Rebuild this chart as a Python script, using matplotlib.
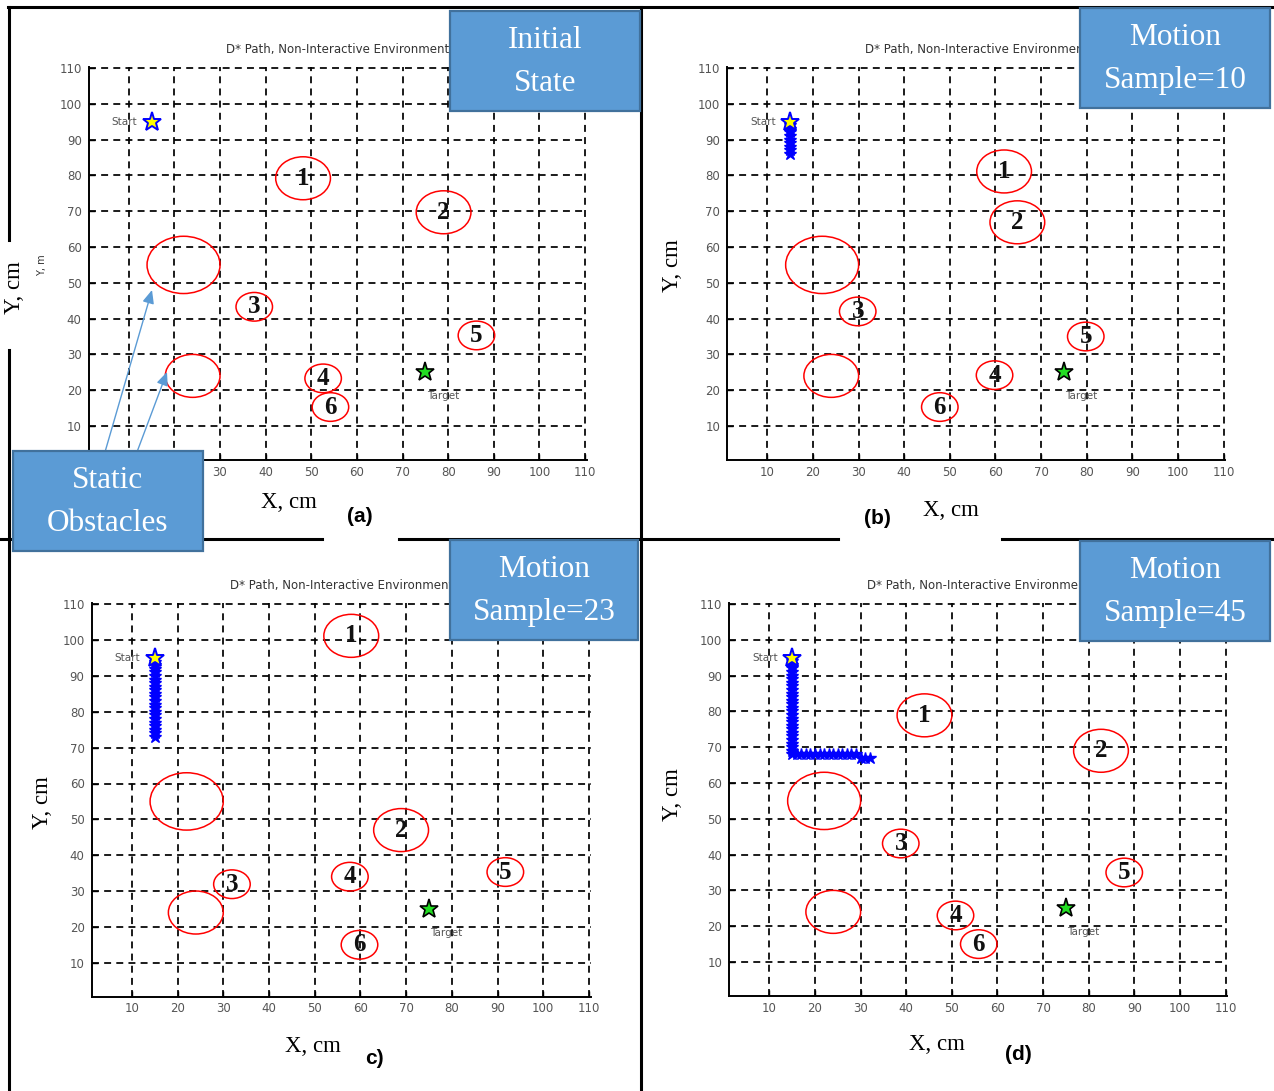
import matplotlib
matplotlib.use('Agg')
from matplotlib import pyplot as plt
from matplotlib.patches import Ellipse, Rectangle, FancyArrowPatch
from matplotlib.lines import Line2D

W, H = 1274, 1091

ticks = [10, 20, 30, 40, 50, 60, 70, 80, 90, 100, 110]
title = 'D* Path, Non-Interactive Environment'

start_pt = (15, 95)
target_pt = (75, 25)

# static obstacles (same in every panel): centre x, centre y, radius
static_x = [22, 24]
static_y = [55, 24]
static_r = [8, 6]

# moving obstacles 1..6
obs_labels = ['1', '2', '3', '4', '5', '6']
obs_r = [6, 6, 4, 4, 4, 4]
obs_x_a = [48.2, 79, 37.5, 52.6, 86.2, 54.2]
obs_y_a = [79.2, 69.7, 43.3, 23.3, 35.3, 15.3]
obs_x_b = [61.9, 64.8, 29.8, 59.8, 79.8, 47.8]
obs_y_b = [81.1, 66.9, 42, 24.2, 35, 15.3]
obs_x_c = [58, 68.9, 31.9, 57.7, 91.7, 59.8]
obs_y_c = [101.2, 47, 31.9, 34, 35.3, 15]
obs_x_d = [44, 82.7, 38.8, 50.8, 87.8, 55.9]
obs_y_d = [78.9, 69, 43.1, 23, 35, 15]

# robot path samples
path_x_b = [15, 15, 15, 15, 15, 15, 15, 15, 15, 15]
path_y_b = [95, 94, 93, 92, 91, 90, 89, 88, 87, 86]
path_x_c = [15] * 23
path_y_c = [95, 94, 93, 92, 91, 90, 89, 88, 87, 86, 85, 84, 83, 82, 81, 80,
            79, 78, 77, 76, 75, 74, 73]
path_x_d = [15] * 28 + [16, 17, 18, 19, 20, 21, 22, 23, 24, 25, 26, 27, 28,
                        29, 30, 31, 32]
path_y_d = [95, 94, 93, 92, 91, 90, 89, 88, 87, 86, 85, 84, 83, 82, 81, 80,
            79, 78, 77, 76, 75, 74, 73, 72, 71, 70, 69, 68,
            68, 68, 68, 68, 68, 68, 68, 68, 68, 68, 68, 68, 68, 68, 67, 67, 67]

box_fill = '#5B9BD5'
box_edge = '#41719C'
serif = ['Liberation Serif', 'DejaVu Serif']

xlo, xhi = 1.2, 110.4
ylo, yhi = 0.5, 110.4


def fx(px):
    return px / W


def fy(py):
    return 1 - py / H


def place(x10, x110, y110, y10):
    sx = (x110 - x10) / 100
    sy = (y10 - y110) / 100
    l = x10 + (xlo - 10) * sx
    r = x10 + (xhi - 10) * sx
    t = y110 - (yhi - 110) * sy
    b = y110 + (110 - ylo) * sy
    return [fx(l), fy(b), (r - l) / W, (b - t) / H]


def panel(fig, rect, ox, oy, px=None, py=None):
    ax = fig.add_axes(rect)
    ax.set_xlim(xlo, xhi)
    ax.set_ylim(ylo, yhi)
    ax.set_xticks(ticks)
    ax.set_yticks(ticks)
    ax.grid(True, color='black', linestyle=(0, (4, 3)), linewidth=1.25)
    ax.set_axisbelow(True)
    for s in ('top', 'right'):
        ax.spines[s].set_visible(False)
    for s in ('left', 'bottom'):
        ax.spines[s].set_linewidth(1.4)
    ax.tick_params(direction='in', length=4, width=1, labelsize=8.5,
                   labelcolor='#555555')
    ax.tick_params(axis='x', pad=4)
    ax.tick_params(axis='y', pad=5)
    ax.set_title(title, fontsize=8.5, color='#333333', pad=10)

    for x, y, r in zip(static_x, static_y, static_r):
        ax.add_patch(Ellipse((x, y), 2 * r, 2 * r, fill=False,
                             edgecolor='red', linewidth=1.1, zorder=4))
    for lab, x, y, r in zip(obs_labels, ox, oy, obs_r):
        ax.add_patch(Ellipse((x, y), 2 * r, 2 * r, fill=False,
                             edgecolor='red', linewidth=1.1, zorder=4))
        ax.text(x, y, lab, ha='center', va='center', fontsize=18,
                fontweight='bold', family=serif, color='#111111', zorder=5)

    if px is not None:
        ax.plot(px, py, color='blue', marker='*', markersize=9,
                linewidth=2, zorder=5)
    ax.plot(*start_pt, marker='*', markersize=14, markerfacecolor='yellow',
            markeredgecolor='blue', markeredgewidth=1.4, zorder=6)
    ax.plot(*target_pt, marker='*', markersize=14, markerfacecolor='#22dd22',
            markeredgecolor='black', markeredgewidth=1.2, zorder=6)
    ax.text(11.8, 95, 'Start', ha='right', va='center', fontsize=7.5,
            color='#555555')
    ax.text(75.3, 18.3, 'Target', ha='left', va='center', fontsize=7.5,
            color='#555555')
    return ax


def blue_box(fig, l, t, r, b, text):
    fig.add_artist(Rectangle((fx(l), fy(b)), (r - l) / W, (b - t) / H,
                             transform=fig.transFigure, facecolor=box_fill,
                             edgecolor=box_edge, linewidth=1.6, zorder=5))
    fig.text(fx((l + r) / 2), fy((t + b) / 2 + 1), text, ha='center',
             va='center', color='white', fontsize=22.5, family=serif,
             linespacing=1.6, zorder=6)


def hline(fig, x0, x1, y):
    fig.add_artist(Line2D([fx(x0), fx(x1)], [fy(y), fy(y)], color='black',
                          linewidth=2.2, transform=fig.transFigure))


def vline(fig, x, y0, y1):
    fig.add_artist(Line2D([fx(x), fx(x)], [fy(y0), fy(y1)], color='black',
                          linewidth=2.2, transform=fig.transFigure))


fig = plt.figure(figsize=(W / 100, H / 100), dpi=100)

ax_a = panel(fig, place(128.8, 585, 68, 426), obs_x_a, obs_y_a)
# first two x labels of (a) sit under the "Static Obstacles" call-out
ax_a.set_xticklabels([''] * 2 + [str(t) for t in ticks[2:]])
panel(fig, place(767.4, 1223.5, 68, 426), obs_x_b, obs_y_b, path_x_b, path_y_b)
panel(fig, place(131.8, 589, 604.3, 962.7), obs_x_c, obs_y_c, path_x_c, path_y_c)
panel(fig, place(769.4, 1225.5, 604, 962), obs_x_d, obs_y_d, path_x_d, path_y_d)

# frame lines
hline(fig, 8, 1274, 7)
vline(fig, 9, 7, 240)
vline(fig, 9, 350, 1091)
vline(fig, 641, 7, 1091)
hline(fig, 0, 322, 539)
hline(fig, 399, 838, 539)
hline(fig, 1002, 1274, 539)

# axis captions
fig.text(fx(15), fy(288), 'Y, cm', rotation=90, ha='center', va='center',
         fontsize=16.5, family=serif)
fig.text(fx(42), fy(265), 'Y, m', rotation=90, ha='center', va='center',
         fontsize=7, color='#333333')
fig.text(fx(289), fy(503), 'X, cm', ha='center', va='center',
         fontsize=16.5, family=serif)
fig.text(fx(360), fy(517), '(a)', ha='center', va='center', fontsize=15,
         fontweight='bold', family=['Liberation Sans'])

fig.text(fx(672), fy(266), 'Y, cm', rotation=90, ha='center', va='center',
         fontsize=16.5, family=serif)
fig.text(fx(951), fy(510), 'X, cm', ha='center', va='center',
         fontsize=16.5, family=serif)
fig.text(fx(877), fy(518), '(b)', ha='center', va='center', fontsize=15,
         fontweight='bold', family=['Liberation Sans'])

fig.text(fx(42), fy(803), 'Y, cm', rotation=90, ha='center', va='center',
         fontsize=16.5, family=serif)
fig.text(fx(313), fy(1046), 'X, cm', ha='center', va='center',
         fontsize=16.5, family=serif)
fig.text(fx(374), fy(1058), 'c)', ha='center', va='center', fontsize=15,
         fontweight='bold', family=['Liberation Sans'])

fig.text(fx(672), fy(795), 'Y, cm', rotation=90, ha='center', va='center',
         fontsize=16.5, family=serif)
fig.text(fx(937), fy(1045), 'X, cm', ha='center', va='center',
         fontsize=16.5, family=serif)
fig.text(fx(1018), fy(1055), '(d)', ha='center', va='center', fontsize=15,
         fontweight='bold', family=['Liberation Sans'])

# call-out boxes
for (x0, y0), (x1, y1) in [((105, 452), (152, 290)), ((137, 452), (167, 372))]:
    fig.add_artist(FancyArrowPatch((fx(x0), fy(y0)), (fx(x1), fy(y1)),
                                   transform=fig.transFigure,
                                   arrowstyle='-|>,head_length=8,head_width=3.5',
                                   color=box_fill, linewidth=1.0,
                                   shrinkA=0, shrinkB=0, zorder=4))

blue_box(fig, 450, 11, 640, 111, 'Initial\nState')
blue_box(fig, 1080, 8, 1270, 108, 'Motion\nSample=10')
blue_box(fig, 450, 540, 638, 640, 'Motion\nSample=23')
blue_box(fig, 1080, 541, 1270, 641, 'Motion\nSample=45')
blue_box(fig, 13, 451, 203, 551, 'Static\nObstacles')

fig.savefig('out.png', dpi=100)
